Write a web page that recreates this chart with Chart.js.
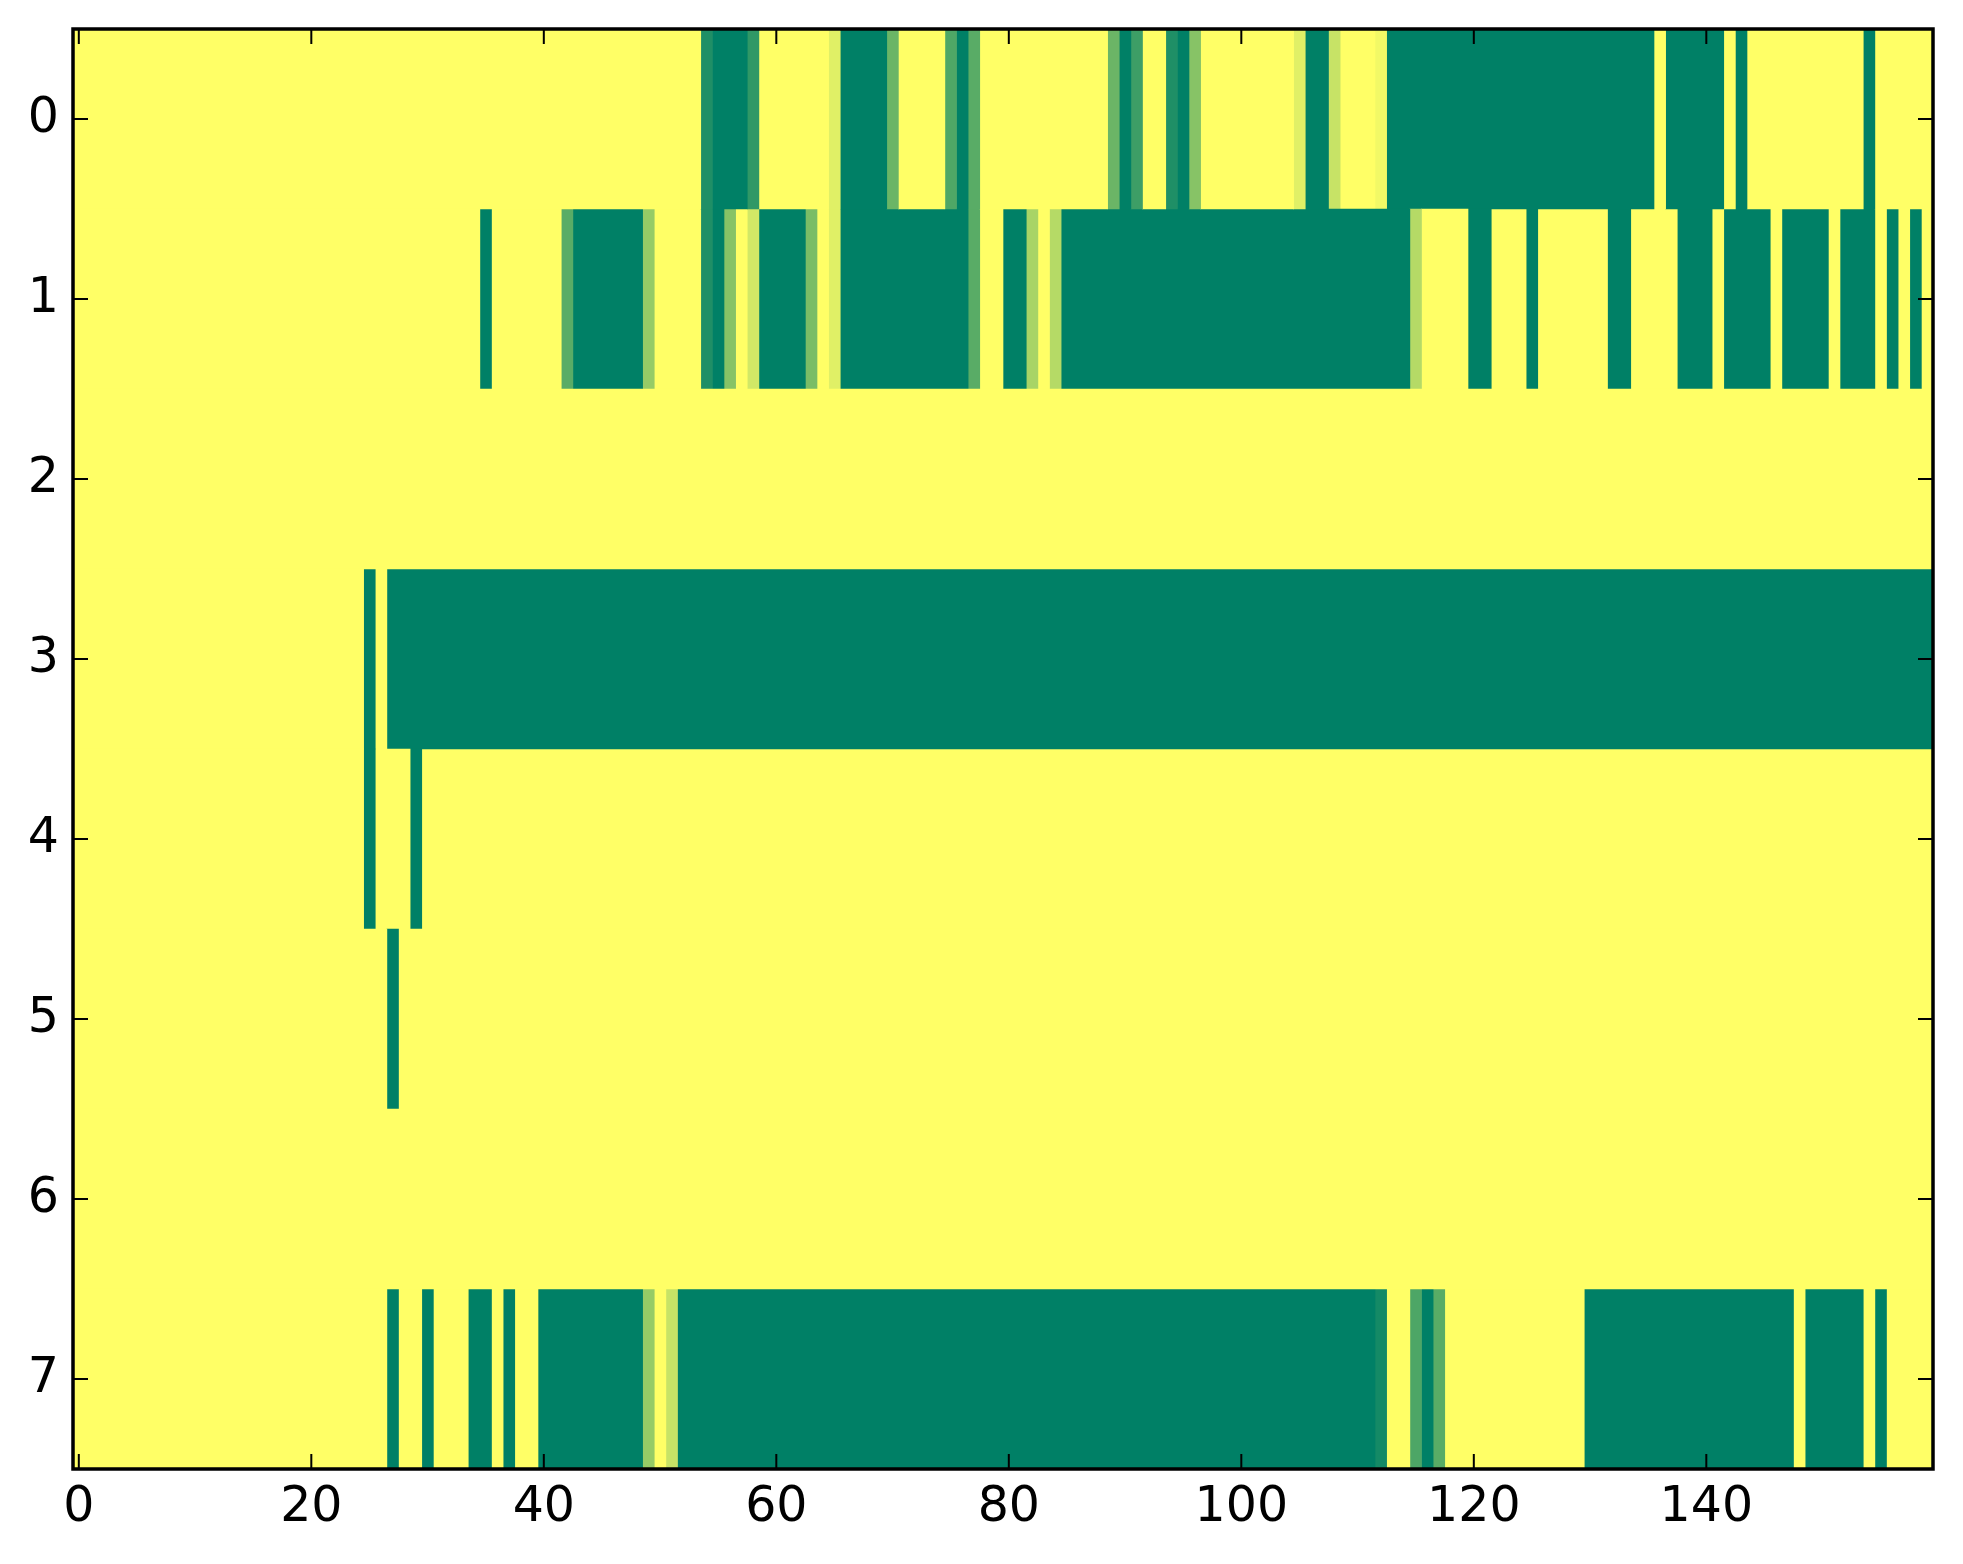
<!DOCTYPE html>
<html>
<head>
<meta charset="utf-8">
<script src="https://cdn.jsdelivr.net/npm/chart.js@4.4.0/dist/chart.umd.min.js"></script>
<style>
  html, body { margin: 0; padding: 0; background: #fff; }
</style>
</head>
<body>
<canvas id="heat" width="1963" height="1564"></canvas>
<script>
// row labels (top to bottom) and x tick values
const rowLabels = ['0', '1', '2', '3', '4', '5', '6', '7'];
const xTicks = [0, 20, 40, 60, 80, 100, 120, 140];

// each row is a list of runs: [first column, last column, value 0..1]
const row0 = [[0,53,1],[54,54,0.12],[55,57,0],[58,58,0.19],[59,64,1],[65,65,0.88],[66,69,0],[70,70,0.42],
  [71,74,1],[75,75,0.31],[76,76,0],[77,77,0.35],[78,88,1],[89,89,0.42],[90,90,0],[91,91,0.24],[92,93,1],
  [94,94,0.12],[95,95,0],[96,96,0.53],[97,104,1],[105,105,0.88],[106,107,0],[108,108,0.78],[109,111,1],
  [112,112,0.95],[113,135,0],[136,136,1],[137,141,0],[142,142,1],[143,143,0],[144,153,1],[154,154,0],[155,159,1]];
const row1 = [[0,34,1],[35,35,0],[36,41,1],[42,42,0.35],[43,48,0],[49,49,0.59],[50,53,1],[54,54,0.12],
  [55,55,0],[56,56,0.53],[57,57,1],[58,58,0.82],[59,62,0],[63,63,0.48],[64,64,1],[65,65,0.88],[66,76,0],
  [77,77,0.35],[78,79,1],[80,81,0],[82,82,0.66],[83,83,1],[84,84,0.71],[85,114,0],[115,115,0.71],[116,119,1],
  [120,121,0],[122,124,1],[125,125,0],[126,131,1],[132,133,0],[134,137,1],[138,140,0],[141,141,1],[142,145,0],
  [146,146,1],[147,150,0],[151,151,1],[152,154,0],[155,155,1],[156,156,0],[157,157,1],[158,158,0],[159,159,1]];
const row2 = [[0,159,1]];
const row3 = [[0,24,1],[25,25,0],[26,26,1],[27,159,0]];
const row4 = [[0,24,1],[25,25,0],[26,28,1],[29,29,0],[30,159,1]];
const row5 = [[0,26,1],[27,27,0],[28,159,1]];
const row6 = [[0,159,1]];
const row7 = [[0,26,1],[27,27,0],[28,29,1],[30,30,0],[31,33,1],[34,35,0],[36,36,1],[37,37,0],[38,39,1],
  [40,48,0],[49,49,0.59],[50,50,1],[51,51,0.78],[52,111,0],[112,112,0.08],[113,114,1],[115,115,0.3],
  [116,116,0],[117,117,0.35],[118,129,1],[130,147,0],[148,148,1],[149,153,0],[154,154,1],[155,155,0],[156,159,1]];

const rows = [row0, row1, row2, row3, row4, row5, row6, row7];

// matplotlib "summer" colormap
function summer(v) {
  return 'rgb(' + Math.round(255 * v) + ',' + Math.round(255 * (0.5 + 0.5 * v)) + ',102)';
}

// dataset k holds the k-th run of every row, so runs can overlap in one band
const maxRuns = Math.max(...rows.map(r => r.length));
const datasets = [];
for (let k = 0; k < maxRuns; k++) {
  datasets.push({
    data: rows.map(r => r[k] ? [r[k][0] - 0.5, r[k][1] + 0.5] : null),
    backgroundColor: rows.map(r => r[k] ? summer(r[k][2]) : 'rgba(0,0,0,0)'),
    borderWidth: 0,
    barPercentage: 1,
    categoryPercentage: 1,
    grouped: false
  });
}

// black frame with inward ticks on all four sides
const frame = {
  id: 'frame',
  afterDatasetsDraw(chart) {
    const ctx = chart.ctx;
    const a = chart.chartArea;
    const x = chart.scales.x, y = chart.scales.y;
    const len = 15;
    ctx.save();
    ctx.strokeStyle = '#000';
    ctx.lineWidth = 2;
    ctx.beginPath();
    xTicks.forEach(v => {
      const px = x.getPixelForValue(v);
      ctx.moveTo(px, a.bottom); ctx.lineTo(px, a.bottom - len);
      ctx.moveTo(px, a.top); ctx.lineTo(px, a.top + len);
    });
    rowLabels.forEach((l, i) => {
      const py = y.getPixelForValue(i);
      ctx.moveTo(a.left, py); ctx.lineTo(a.left + len, py);
      ctx.moveTo(a.right, py); ctx.lineTo(a.right - len, py);
    });
    ctx.stroke();
    ctx.lineWidth = 3.5;
    ctx.strokeRect(a.left, a.top, a.right - a.left, a.bottom - a.top);
    ctx.restore();
  }
};

const tickFont = { family: 'DejaVu Sans', size: 49 };

new Chart(document.getElementById('heat'), {
  type: 'bar',
  data: { labels: rowLabels, datasets: datasets },
  plugins: [frame],
  options: {
    indexAxis: 'y',
    responsive: false,
    devicePixelRatio: 1,
    animation: false,
    layout: { padding: { top: 29, right: 30, left: 0, bottom: 0 } },
    plugins: { legend: { display: false }, tooltip: { enabled: false } },
    scales: {
      x: {
        type: 'linear',
        min: -0.5,
        max: 159.5,
        offset: false,
        grid: { display: false, drawTicks: false },
        border: { display: false },
        afterBuildTicks: s => { s.ticks = xTicks.map(v => ({ value: v })); },
        afterFit: s => { s.height = 95; s.paddingLeft = 0; s.paddingRight = 0; },
        ticks: { color: '#000', font: tickFont, padding: 10, maxRotation: 0, autoSkip: false }
      },
      y: {
        type: 'category',
        grid: { display: false, drawTicks: false },
        border: { display: false },
        afterFit: s => { s.width = 73; s.paddingTop = 0; s.paddingBottom = 0; },
        ticks: { color: '#000', font: tickFont, padding: 14, autoSkip: false }
      }
    }
  }
});
</script>
</body>
</html>
